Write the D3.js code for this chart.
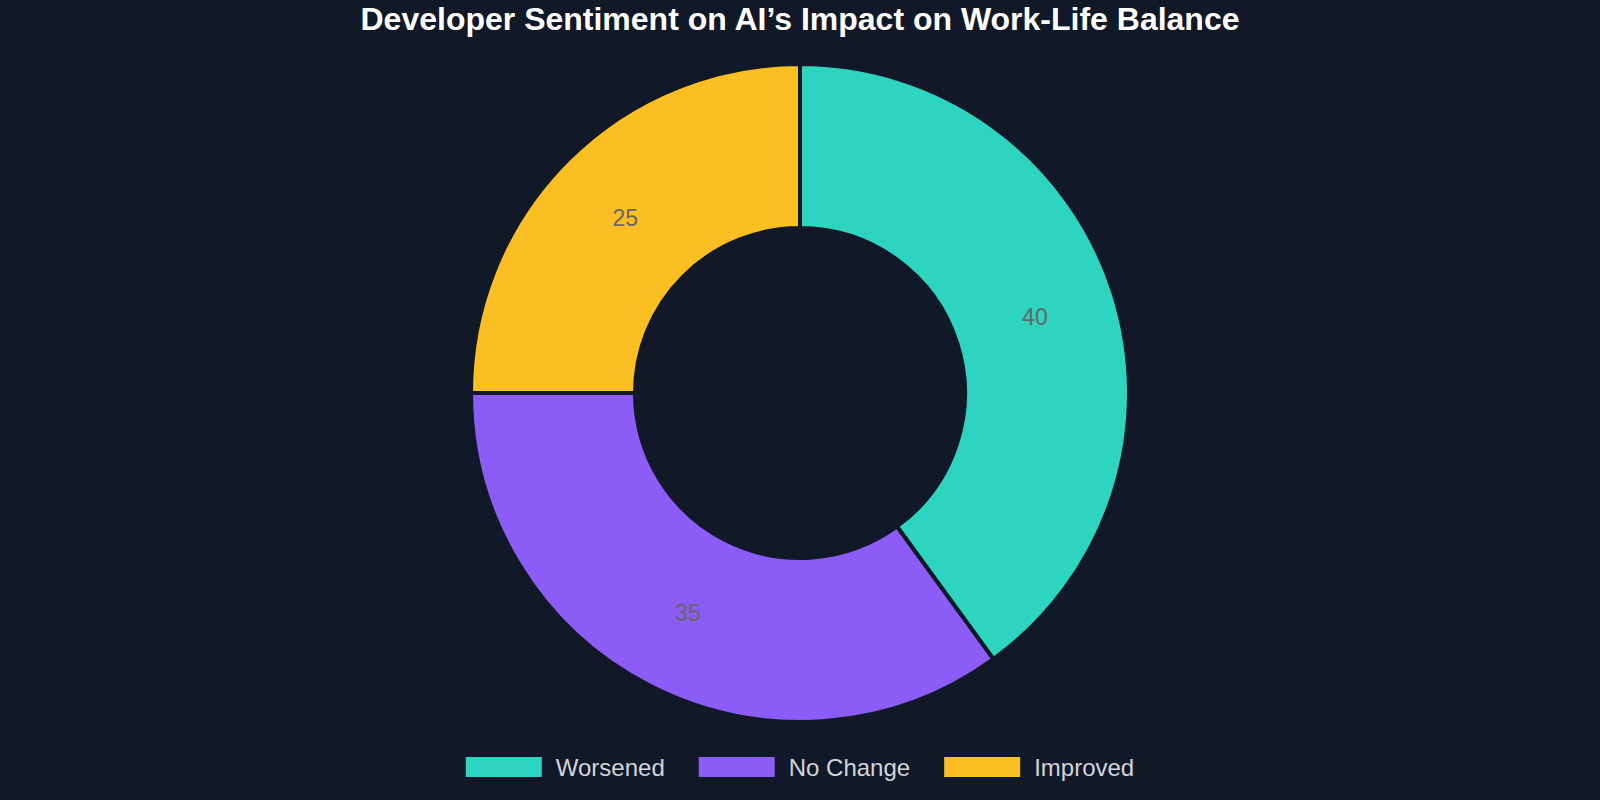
<!DOCTYPE html>
<html>
<head>
<meta charset="utf-8">
<script src="https://cdn.jsdelivr.net/npm/d3@7"></script>
<style>
  html, body { margin: 0; padding: 0; background: #111827; }
  #chart { width: 1600px; height: 800px; }
</style>
</head>
<body>
<div id="chart"></div>
<script>
const categories = ["Worsened", "No Change", "Improved"];
const values = [40, 35, 25];
const colors = ["#2DD4BF", "#8B5CF6", "#FBBF24"];
const title = "Developer Sentiment on AI’s Impact on Work-Life Balance";

const width = 1600;
const height = 800;
const bg = "#111827";

const svg = d3.select("#chart")
  .append("svg")
  .attr("width", width)
  .attr("height", height)
  .attr("viewBox", `0 0 ${width} ${height}`)
  .style("font-family", "'Liberation Sans', Arial, Helvetica, sans-serif");

svg.append("rect").attr("width", width).attr("height", height).attr("fill", bg);

svg.append("text")
  .attr("x", 800)
  .attr("y", 30)
  .attr("text-anchor", "middle")
  .attr("fill", "#ffffff")
  .attr("font-size", 32)
  .attr("font-weight", "bold")
  .text(title);

const cx = 800, cy = 393;
const outerR = 329, innerR = 165;

const data = categories.map((c, i) => ({ name: c, value: values[i], color: colors[i] }));

const pie = d3.pie().sort(null).value(d => d.value);
const arc = d3.arc().innerRadius(innerR).outerRadius(outerR);

const g = svg.append("g").attr("transform", `translate(${cx},${cy})`);

const arcs = pie(data);

g.selectAll("path")
  .data(arcs)
  .enter()
  .append("path")
  .attr("d", arc)
  .attr("fill", d => d.data.color)
  .attr("stroke", bg)
  .attr("stroke-width", 4)
  .attr("stroke-linejoin", "miter");

// value labels at segment centroid
g.selectAll("text.val")
  .data(arcs)
  .enter()
  .append("text")
  .attr("class", "val")
  .attr("x", d => arc.centroid(d)[0])
  .attr("y", d => arc.centroid(d)[1])
  .attr("text-anchor", "middle")
  .attr("dominant-baseline", "central")
  .attr("fill", "#666666")
  .attr("font-size", 23)
  .text(d => d.data.value);

// legend
const legend = svg.append("g").attr("transform", "translate(0,767)");
const boxW = 76, boxH = 20, gapText = 14, gapItem = 34;
const fontSize = 24;

const items = legend.selectAll("g.item")
  .data(data)
  .enter()
  .append("g")
  .attr("class", "item");

items.append("rect")
  .attr("width", boxW)
  .attr("height", boxH)
  .attr("y", -boxH / 2)
  .attr("fill", d => d.color);

items.append("text")
  .attr("x", boxW + gapText)
  .attr("dominant-baseline", "central")
  .attr("fill", "#D1D5DB")
  .attr("font-size", fontSize)
  .text(d => d.name);

// lay items out centred
let widths = [];
items.each(function () { widths.push(this.getBBox().width); });
const total = d3.sum(widths) + gapItem * (widths.length - 1);
let x = cx - total / 2;
items.attr("transform", (d, i) => {
  const t = `translate(${x},0)`;
  x += widths[i] + gapItem;
  return t;
});
</script>
</body>
</html>
